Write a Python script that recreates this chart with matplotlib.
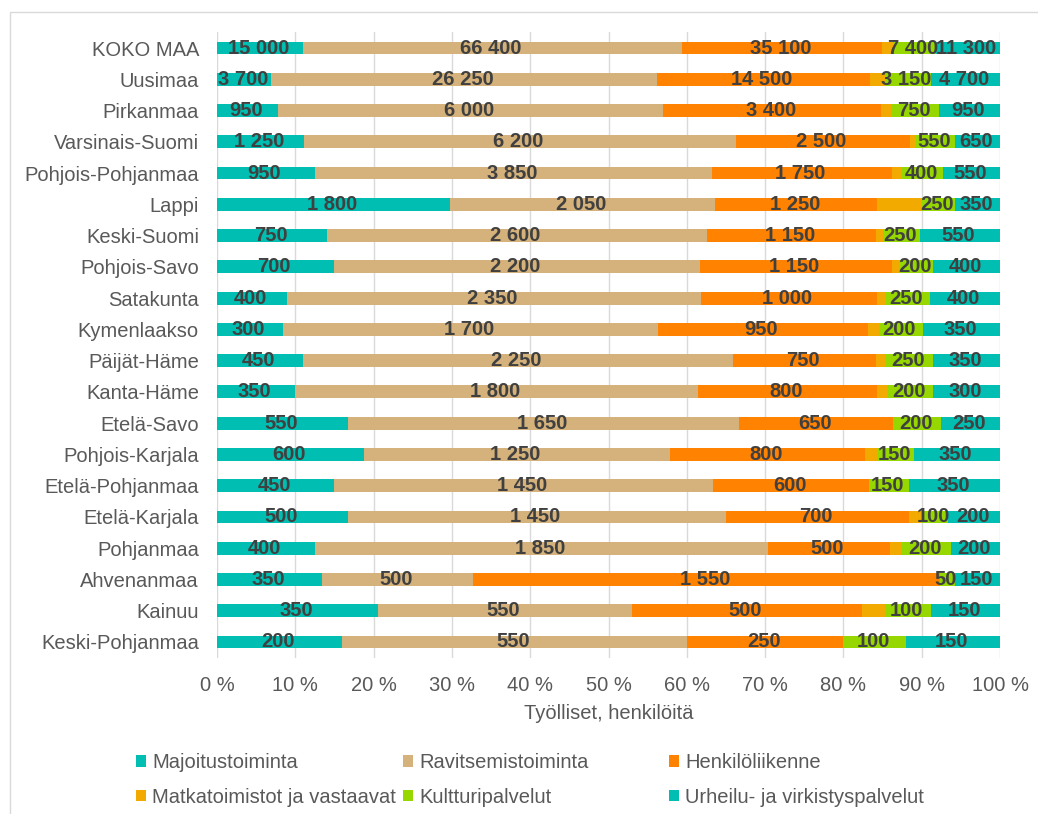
import numpy as np
import matplotlib
matplotlib.use("Agg")
import matplotlib.pyplot as plt
from matplotlib.patches import Patch, Rectangle

plt.rcParams['font.family'] = ['Liberation Sans', 'DejaVu Sans']

regions = ["KOKO MAA", "Uusimaa", "Pirkanmaa", "Varsinais-Suomi", "Pohjois-Pohjanmaa",
           "Lappi", "Keski-Suomi", "Pohjois-Savo", "Satakunta", "Kymenlaakso",
           "Päijät-Häme", "Kanta-Häme", "Etelä-Savo", "Pohjois-Karjala", "Etelä-Pohjanmaa",
           "Etelä-Karjala", "Pohjanmaa", "Ahvenanmaa", "Kainuu", "Keski-Pohjanmaa"]

majoitus = [15000, 3700, 950, 1250, 950, 1800, 750, 700, 400, 300, 450, 350, 550, 600, 450, 500, 400, 350, 350, 200]
ravitsemis = [66400, 26250, 6000, 6200, 3850, 2050, 2600, 2200, 2350, 1700, 2250, 1800, 1650, 1250, 1450, 1450, 1850, 500, 550, 550]
henkilo = [35100, 14500, 3400, 2500, 1750, 1250, 1150, 1150, 1000, 950, 750, 800, 650, 800, 600, 700, 500, 1550, 500, 250]
matka = [2000, 1000, 150, 100, 100, 350, 50, 50, 50, 50, 50, 50, 0, 50, 0, 50, 50, 0, 50, 0]
kulttuuri = [7400, 3150, 750, 550, 400, 250, 250, 200, 250, 200, 250, 200, 200, 150, 150, 100, 200, 50, 100, 100]
urheilu = [11300, 4700, 950, 650, 550, 350, 550, 400, 400, 350, 350, 300, 250, 350, 350, 200, 200, 150, 150, 150]

series = [
    ("Majoitustoiminta", majoitus, "#00BFB2", True),
    ("Ravitsemistoiminta", ravitsemis, "#D5B27B", True),
    ("Henkilöliikenne", henkilo, "#FF8200", True),
    ("Matkatoimistot ja vastaavat", matka, "#F2A900", False),
    ("Kultturipalvelut", kulttuuri, "#97D700", True),
    ("Urheilu- ja virkistyspalvelut", urheilu, "#00BFB2", True),
]

W, H = 1038, 814
fig = plt.figure(figsize=(W / 100, H / 100), dpi=100)
ax = fig.add_axes([217 / W, 1 - 657.6 / H, (1000 - 217) / W, (657.6 - 32.4) / H])

totals = np.sum([np.array(s[1], dtype=float) for s in series], axis=0)
y = np.arange(len(regions))
left = np.zeros(len(regions))
handles = []
for name, vals, color, show in series:
    vals = np.array(vals, dtype=float)
    frac = vals / totals
    bars = ax.barh(y, frac, left=left, height=0.41, color=color, zorder=2)
    if show:
        labels = [f"{int(v):,}".replace(",", " ") if v > 0 else "" for v in vals]
        ax.bar_label(bars, labels=labels, label_type='center', fontsize=14.5,
                     fontweight='bold', color='#404040', padding=-1)
    left += frac
    handles.append(Patch(facecolor=color, label=name))

ax.set_xlim(0, 1)
ax.set_ylim(len(regions) - 0.5, -0.5)
ax.set_yticks(y)
ax.set_yticklabels(regions)
ax.set_xticks(np.arange(0, 1.01, 0.1))
ax.set_xticklabels([f"{int(round(t * 100))} %" for t in np.arange(0, 1.01, 0.1)])
ax.tick_params(axis='both', length=0, labelsize=14.5, labelcolor='#595959')
ax.tick_params(axis='y', pad=13)
ax.tick_params(axis='x', pad=13)
ax.grid(axis='x', color='#D9D9D9', linewidth=1, zorder=0)
ax.set_axisbelow(True)
for sp in ax.spines.values():
    sp.set_visible(False)
ax.set_xlabel("Työlliset, henkilöitä", fontsize=14.5, color='#595959', labelpad=7)

# legend: three columns, row-major like the original
col_x = [136, 403, 669]
for i, cx in enumerate(col_x):
    fig.legend(handles=[handles[i], handles[i + 3]], loc='upper left',
               bbox_to_anchor=(cx / W, 1 - 753 / H), frameon=False,
               fontsize=14.5, labelcolor='#595959', handlelength=0.5, handleheight=0.5,
               handletextpad=0.3, labelspacing=0.78, borderpad=0, borderaxespad=0)

fig.add_artist(Rectangle((10 / W, -0.1), 2, 1 - 12 / H + 0.1, transform=fig.transFigure,
                         fill=False, edgecolor='#D9D9D9', linewidth=1))

fig.savefig("out.png", dpi=100)
